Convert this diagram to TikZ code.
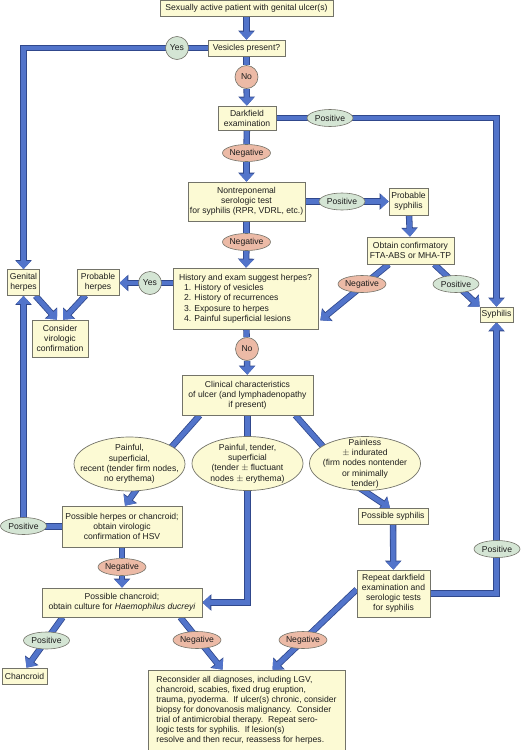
\documentclass[tikz,border=0pt]{standalone}
\usepackage{fontspec}
\setmainfont{Liberation Sans}
\usetikzlibrary{arrows.meta,shapes.geometric,calc}
\pgfdeclarelayer{bg}
\pgfsetlayers{bg,main}
\definecolor{boxfill}{RGB}{252,250,212}
\definecolor{boxedge}{RGB}{115,115,105}
\definecolor{posfill}{RGB}{212,229,212}
\definecolor{negfill}{RGB}{236,186,166}
\definecolor{arrblue}{RGB}{82,116,202}
\definecolor{arrdark}{RGB}{48,72,140}
\definecolor{txt}{RGB}{30,30,30}
\newcommand{\fsz}{\fontsize{8.6}{10}\selectfont}
\begin{document}
\begin{tikzpicture}[x=1pt,y=-1pt,
  every node/.style={text=txt, font=\fsz},
  box/.style={draw=boxedge, fill=boxfill, line width=0.7pt, rectangle, align=center, inner sep=1pt},
  posell/.style={ellipse, draw=boxedge, fill=posfill, line width=0.6pt, inner sep=0pt, minimum width=46pt, minimum height=17pt},
  negell/.style={posell, fill=negfill},
  yn/.style={circle, draw=boxedge, line width=0.6pt, inner sep=0pt, minimum size=23pt},
  bigell/.style={ellipse, draw=boxedge, fill=boxfill, line width=0.7pt, minimum width=111pt, minimum height=54pt, inner sep=0pt},
  elltext/.style={align=center, inner sep=0pt, font=\fontsize{8.6}{10.3}\selectfont},
  ln/.style={draw=arrblue, line width=4.8pt, line join=miter, preaction={draw=arrdark, line width=6.4pt}},
  arr/.style={ln, -{Triangle[width=9pt 1.1, length=5.5pt 0.55]}},
]
\useasboundingbox (0,0) rectangle (522,750);

% boxes
\node[box, minimum width=173pt, minimum height=16pt] (top) at (246.5,8.5) {Sexually active patient with genital ulcer(s)};
\node[box, minimum width=77pt, minimum height=16pt] (ves) at (246.5,48) {Vesicles present?};
\node[yn, fill=posfill] (yes1) at (177,48) {Yes};
\node[yn, fill=negfill] (no1) at (246.5,77) {No};
\node[box, minimum width=58pt, minimum height=24pt] (dark) at (247,118) {Darkfield\\examination};
\node[posell] (pos1) at (330,118) {Positive};
\node[negell] (neg1) at (246.5,153) {Negative};
\node[box, minimum width=117pt, minimum height=39pt] (nontrep) at (246.5,201.5) {Nontreponemal\\serologic test\\for syphilis (RPR, VDRL, etc.)};
\node[posell] (pos2) at (342,201.5) {Positive};
\node[box, minimum width=39pt, minimum height=27pt] (probsyph) at (408.5,201.5) {Probable\\syphilis};
\node[box, minimum width=87pt, minimum height=27pt] (obtain) at (410.5,250.5) {Obtain confirmatory\\FTA-ABS or MHA-TP};
\node[negell] (neg2) at (246.5,242) {Negative};
\node[box, minimum width=145pt, minimum height=61pt, align=left, font=\fontsize{8.6}{10.3}\selectfont] (hist) at (245.5,298.5) {History and exam suggest herpes?\\\hspace*{5pt}1. History of vesicles\\\hspace*{5pt}2. History of recurrences\\\hspace*{5pt}3. Exposure to herpes\\\hspace*{5pt}4. Painful superficial lesions};
\node[yn, fill=posfill] (yes2) at (150,283) {Yes};
\node[box, minimum width=42pt, minimum height=26pt] (probherp) at (98,282) {Probable\\herpes};
\node[box, minimum width=32pt, minimum height=26pt] (genherp) at (23.5,282.5) {Genital\\herpes};
\node[box, minimum width=56pt, minimum height=37pt] (consider) at (60,338.5) {Consider\\virologic\\confirmation};
\node[negell] (neg3) at (362,284) {Negative};
\node[posell] (pos3) at (456,284) {Positive};
\node[box, minimum width=33pt, minimum height=15pt] (syph) at (496.5,314.5) {Syphilis};
\node[yn, fill=negfill] (no2) at (247,349) {No};
\node[box, minimum width=131pt, minimum height=40pt] (clin) at (247.5,395) {Clinical characteristics\\of ulcer (and lymphadenopathy\\if present)};
\node[bigell] (ell1) at (129.5,464) {};
\node[elltext] at (ell1) {Painful,\\superficial,\\recent (tender firm nodes,\\no erythema)};
\node[bigell] (ell2) at (247.5,463.5) {};
\node[elltext] at (ell2) {Painful, tender,\\superficial\\(tender $\pm$ fluctuant\\nodes $\pm$ erythema)};
\node[bigell] (ell3) at (365,463.5) {};
\node[elltext] at (ell3) {Painless\\$\pm$ indurated\\(firm nodes nontender\\or minimally\\tender)};
\node[box, minimum width=120pt, minimum height=41pt] (pherp) at (122,526.5) {Possible herpes or chancroid;\\obtain virologic\\confirmation of HSV};
\node[posell] (pos4) at (23.5,526) {Positive};
\node[negell] (neg4) at (122,567) {Negative};
\node[box, minimum width=160pt, minimum height=29pt] (pchanc) at (122,602.5) {Possible chancroid;\\obtain culture for \textit{Haemophilus ducreyi}};
\node[box, minimum width=70pt, minimum height=16pt] (psyph) at (393,516.5) {Possible syphilis};
\node[box, minimum width=73pt, minimum height=47pt] (repeat) at (393.5,593.5) {Repeat darkfield\\examination and\\serologic tests\\for syphilis};
\node[posell] (pos5) at (497,549) {Positive};
\node[posell] (pos6) at (46.5,640.5) {Positive};
\node[box, minimum width=45pt, minimum height=16pt] (chancroid) at (24.5,676) {Chancroid};
\node[negell] (neg5) at (197,640) {Negative};
\node[negell] (neg6) at (303,640) {Negative};
\node[box, minimum width=197pt, minimum height=80pt, align=left] (recon) at (246.5,710) {Reconsider all diagnoses, including LGV,\\chancroid, scabies, fixed drug eruption,\\trauma, pyoderma.\ \ If ulcer(s) chronic, consider\\biopsy for donovanosis malignancy.\ \ Consider\\trial of antimicrobial therapy.\ \ Repeat sero-\\logic tests for syphilis.\ \ If lesion(s)\\resolve and then recur, reassess for herpes.};

% connectors
\begin{pgfonlayer}{bg}
\draw[arr] (top) -- (ves);
\draw[arr] (ves.west) -| (genherp.north);
\draw[ln] (ves) -- (no1);
\draw[arr] (no1) -- (dark);
\draw[arr] (dark.east) -| (syph.north);
\draw[ln] (dark) -- (neg1);
\draw[arr] (neg1) -- (nontrep);
\draw[arr] (nontrep.east) -- (probsyph.west);
\draw[arr] (probsyph) -- (obtain);
\draw[ln] (nontrep) -- (neg2);
\draw[arr] (neg2) -- (hist);
\draw[arr] (hist.west |- yes2) -- (probherp.east |- yes2);
\draw[arr] (genherp) -- ($(consider.north)+(-3,0)$);
\draw[arr] (probherp) -- ($(consider.north)+(3,0)$);
\draw[arr] ($(obtain.south west)+(22,0)$) -- ($(hist.south east)+(2,-9)$);
\draw[arr] ($(obtain.south east)+(-20,0)$) -- (syph.north west);
\draw[ln] (hist) -- (no2);
\draw[arr] (no2) -- (clin);
\draw[ln] ($(clin.south west)+(18,0)$) -- ($(clin.south west)+(-14,36)$);
\draw[ln] ($(clin.south east)+(-18,0)$) -- ($(clin.south east)+(14,36)$);
\draw[ln] (clin) -- (ell2);
\draw[arr] ($(ell1.south)+(10,-6)$) -- ($(pherp.north)+(3,0)$);
\draw[arr] ($(ell3.south)+(-10,-6)$) -- ($(psyph.north)+(-3,0)$);
\draw[arr] (ell2.south) |- (pchanc.east);
\draw[arr] (pherp.west) -| (genherp.south);
\draw[ln] (pherp) -- (neg4);
\draw[arr] (neg4) -- (pchanc);
\draw[arr] (psyph) -- (repeat);
\draw[arr] (repeat.east) -| (syph.south);
\draw[arr] ($(pchanc.south west)+(21,0)$) -- ($(chancroid.north)+(2,0)$);
\draw[arr] ($(pchanc.south east)+(-22,0)$) -- ($(recon.north)+(-24,0)$);
\draw[arr] ($(repeat.west)+(0,-4)$) -- ($(recon.north)+(26,0)$);
\end{pgfonlayer}
\end{tikzpicture}
\end{document}
